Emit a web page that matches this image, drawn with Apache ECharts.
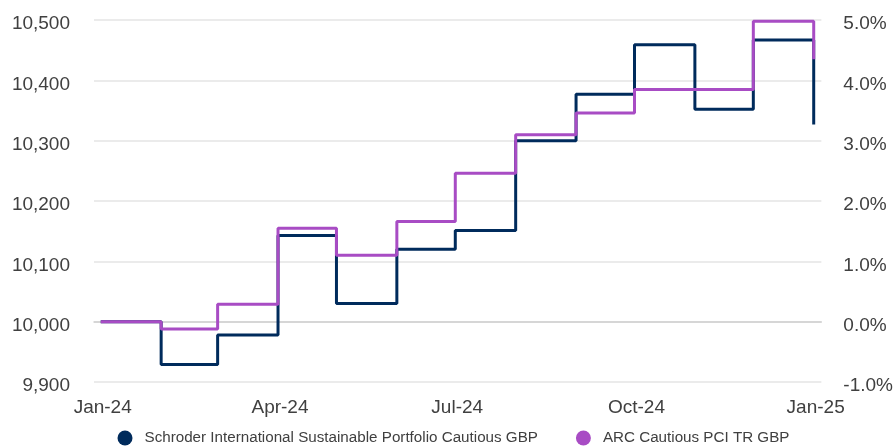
<!DOCTYPE html>
<html>
<head>
<meta charset="utf-8">
<script src="https://cdn.jsdelivr.net/npm/echarts@6/dist/echarts.min.js"></script>
<style>
  html, body { margin: 0; padding: 0; background: #ffffff; }
  #chart { width: 896px; height: 447px; }
</style>
</head>
<body>
<div id="chart"></div>
<script>
// ---- Data (month-end values, growth of 10,000) ----
const dates = ['2023-12-31','2024-01-31','2024-02-29','2024-03-31','2024-04-30','2024-05-31','2024-06-30','2024-07-31','2024-08-31','2024-09-30','2024-10-31','2024-11-30','2024-12-31'];
const schroder = [10000, 9929, 9978, 10143, 10030, 10120, 10151, 10300, 10377, 10459, 10352, 10467, 10327];
const arc = [10000, 9988, 10029, 10155, 10110, 10166, 10246, 10310, 10346, 10385, 10385, 10498, 10435];
const seriesNames = ['Schroder International Sustainable Portfolio Cautious GBP', 'ARC Cautious PCI TR GBP'];
const tickDates = ['2024-01-01','2024-04-01','2024-07-01','2024-10-01','2025-01-01'];
const tickLabels = ['Jan-24','Apr-24','Jul-24','Oct-24','Jan-25'];

const DAY = 86400000;
function ts(s) {
  const p = s.split('-').map(Number);
  return Date.UTC(p[0], p[1] - 1, p[2]);
}
const tickValues = tickDates.map(ts);
const xMin = ts('2023-12-27') + 0.53 * DAY;
const xMax = ts('2025-01-03') + 0.93 * DAY;

const fontFamily = "'Liberation Sans', Arial, sans-serif";
const textColor = '#404040';

const chart = echarts.init(document.getElementById('chart'), null, { renderer: 'canvas' });
chart.setOption({
  animation: false,
  backgroundColor: '#ffffff',
  grid: { left: 94, right: 74, top: 20, bottom: 65, containLabel: false },
  legend: {
    top: 430.5,
    left: 117.5,
    padding: 0,
    icon: 'circle',
    itemWidth: 15,
    itemHeight: 15,
    itemGap: 38,
    textStyle: { color: textColor, fontSize: 15.2, fontFamily: fontFamily, padding: [0, 0, 0, 7] },
    data: seriesNames
  },
  xAxis: {
    type: 'value',
    min: xMin,
    max: xMax,
    axisLine: { show: true, lineStyle: { color: '#d0d0d0', width: 1.5 } },
    axisTick: { show: false },
    splitLine: { show: false },
    axisLabel: {
      customValues: tickValues,
      margin: 16,
      color: textColor,
      fontSize: 19,
      fontFamily: fontFamily,
      formatter: function (v) {
        const i = tickValues.indexOf(v);
        return i >= 0 ? tickLabels[i] : '';
      }
    }
  },
  yAxis: [
    {
      type: 'value',
      min: 9900,
      max: 10500,
      interval: 100,
      axisLine: { show: false },
      axisTick: { show: false },
      splitLine: { show: true, lineStyle: { color: '#e4e4e4', width: 1.5 } },
      axisLabel: {
        margin: 24,
        verticalAlign: 'top',
        lineHeight: 8,
        color: textColor,
        fontSize: 19,
        fontFamily: fontFamily,
        formatter: function (v) { return v.toLocaleString('en-US'); }
      }
    },
    {
      type: 'value',
      position: 'right',
      min: -1,
      max: 5,
      interval: 1,
      axisLine: { show: false },
      axisTick: { show: false },
      splitLine: { show: false },
      axisLabel: {
        margin: 22,
        verticalAlign: 'top',
        lineHeight: 8,
        color: textColor,
        fontSize: 19,
        fontFamily: fontFamily,
        formatter: function (v) { return v.toFixed(1) + '%'; }
      }
    }
  ],
  series: [
    {
      name: seriesNames[0],
      type: 'line',
      step: 'end',
      yAxisIndex: 0,
      showSymbol: false,
      symbol: 'none',
      color: '#002b5c',
      lineStyle: { color: '#002b5c', width: 3 },
      data: dates.map((d, i) => [ts(d), schroder[i]])
    },
    {
      name: seriesNames[1],
      type: 'line',
      step: 'end',
      yAxisIndex: 0,
      showSymbol: false,
      symbol: 'none',
      color: '#a84cc4',
      lineStyle: { color: '#a84cc4', width: 3 },
      data: dates.map((d, i) => [ts(d), arc[i]])
    }
  ]
});
</script>
</body>
</html>
